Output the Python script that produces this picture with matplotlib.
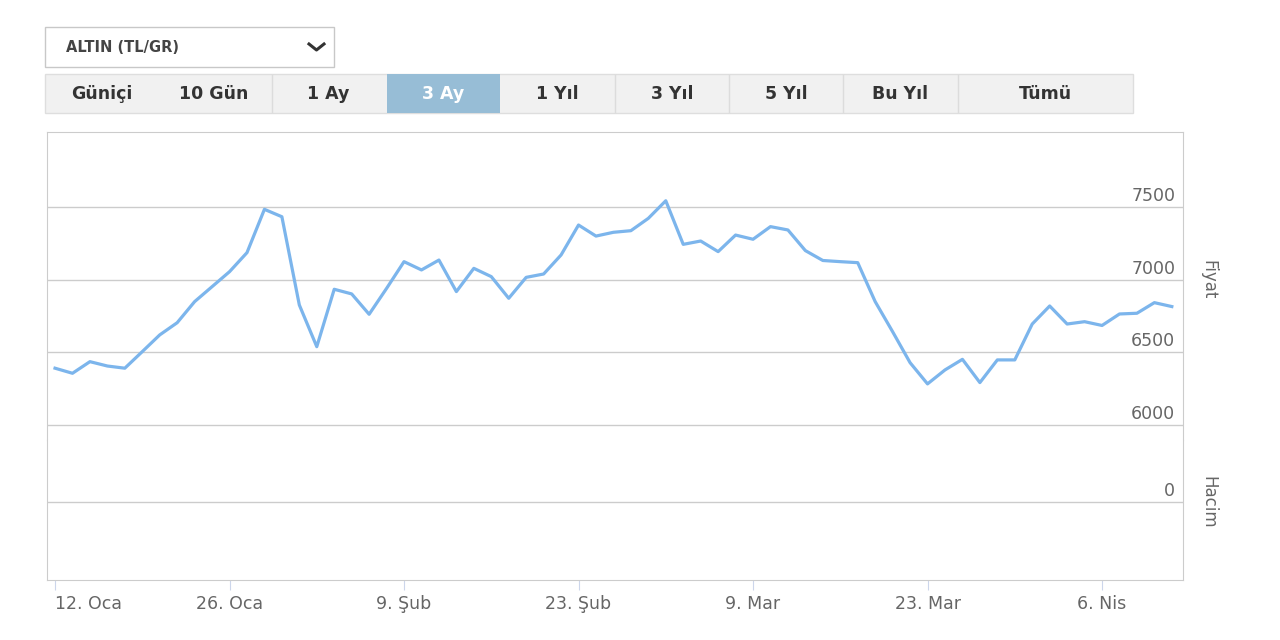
import matplotlib.pyplot as plt
from matplotlib.patches import Rectangle
from matplotlib.lines import Line2D

W, H = 1280, 640

# gram gold price in TL, one value per trading day (12 Oca - 10 Nis)
prices = [6391, 6356, 6436, 6406, 6391, 6505, 6620, 6704, 6849, 6952,
          7055, 7186, 7484, 7433, 6826, 6539, 6934, 6902, 6762, 6940,
          7124, 7067, 7135, 6918, 7078, 7021, 6872, 7016, 7039, 7170,
          7376, 7300, 7326, 7337, 7422, 7543, 7243, 7266, 7193, 7307,
          7278, 7365, 7342, 7200, 7132, 7124, 7117, 6849, 6642, 6429,
          6283, 6379, 6452, 6292, 6448, 6448, 6695, 6819, 6695, 6711,
          6685, 6764, 6769, 6842, 6815]

tick_idx = [0, 10, 20, 30, 40, 50, 60]
tick_labels = ["12. Oca", "26. Oca", "9. Şub", "23. Şub", "9. Mar", "23. Mar", "6. Nis"]
price_ticks = [6000, 6500, 7000, 7500]
volume_ticks = [0]

buttons = ["Güniçi", "10 Gün", "1 Ay", "3 Ay", "1 Yıl", "3 Yıl", "5 Yıl", "Bu Yıl", "Tümü"]
active = "3 Ay"


def fx(x):
    return x / W


def fy(y):
    return 1 - y / H


fig = plt.figure(figsize=(12.8, 6.4), dpi=100)
fig.patch.set_facecolor("white")

# dropdown
fig.patches.append(Rectangle((fx(45), fy(67)), 289 / W, 40 / H, transform=fig.transFigure,
                             fc="white", ec="#c8c8c8", lw=1))
fig.text(fx(66), fy(47), "ALTIN (TL/GR)", ha="left", va="center", fontsize=10.5,
         fontweight="bold", color="#444444")
fig.lines.append(Line2D([fx(309), fx(316.5), fx(324)], [fy(44), fy(50), fy(44)],
                        transform=fig.transFigure, color="#333333", lw=2.2))

# range buttons
fig.patches.append(Rectangle((fx(45), fy(113)), 1088 / W, 39 / H, transform=fig.transFigure,
                             fc="#f1f1f1", ec="#dedede", lw=1))
fig.patches.append(Rectangle((fx(387), fy(113)), 113 / W, 39 / H, transform=fig.transFigure,
                             fc="#97bdd6", ec="none"))
for xd in [272, 615, 729, 843, 958]:
    fig.lines.append(Line2D([fx(xd), fx(xd)], [fy(75), fy(112)], transform=fig.transFigure,
                            color="#dcdcdc", lw=1))
btn_x = [102, 214, 328, 443, 557, 672, 786, 900, 1045]
for lab, bx in zip(buttons, btn_x):
    fig.text(fx(bx), fy(94), lab, ha="center", va="center", fontsize=12.5, fontweight="bold",
             color="white" if lab == active else "#333333")

# price pane
ax = fig.add_axes([fx(47), fy(440), 1136 / W, 308 / H])
x = list(range(len(prices)))
ax.plot(x, prices, color="#7cb5ec", lw=2.3, solid_joinstyle="round")
xlim = (-0.46, 64.64)
ax.set_xlim(*xlim)
ax.set_ylim(5897, 8016)
ax.set_yticks(price_ticks)
ax.set_xticks([])
ax.yaxis.grid(True, color="#cccccc", lw=1)
ax.tick_params(left=False, labelleft=False)
for s in ["top", "left", "right"]:
    ax.spines[s].set_color("#cccccc")
ax.spines["bottom"].set_visible(False)
for v in price_ticks:
    ax.annotate(str(v), xy=(1, v), xycoords=ax.get_yaxis_transform(), xytext=(-5.5, 1.5),
                textcoords="offset points", ha="right", va="bottom", fontsize=12.5,
                color="#666666")

# volume pane
vax = fig.add_axes([fx(47), fy(580), 1136 / W, 140 / H])
vax.set_xlim(*xlim)
vax.set_ylim(-1, 0.795)
vax.set_yticks(volume_ticks)
vax.yaxis.grid(True, color="#cccccc", lw=1)
vax.tick_params(left=False, labelleft=False)
for s in ["bottom", "left", "right"]:
    vax.spines[s].set_color("#cccccc")
vax.spines["top"].set_visible(False)
for v in volume_ticks:
    vax.annotate(str(v), xy=(1, v), xycoords=vax.get_yaxis_transform(), xytext=(-5.5, 1.5),
                 textcoords="offset points", ha="right", va="bottom", fontsize=12.5,
                 color="#666666")
vax.set_xticks(tick_idx)
vax.set_xticklabels(tick_labels)
vax.get_xticklabels()[0].set_ha("left")
vax.get_xticklabels()[0].set_x(-0.1)
vax.tick_params(axis="x", length=7, color="#ccd6eb", labelcolor="#666666", labelsize=12.5,
                pad=4)

fig.text(fx(1208), fy(280), "Fiyat", rotation=-90, ha="center", va="center", fontsize=12,
         color="#666666")
fig.text(fx(1208), fy(502), "Hacim", rotation=-90, ha="center", va="center", fontsize=12,
         color="#666666")

fig.savefig("out.png", dpi=100)
